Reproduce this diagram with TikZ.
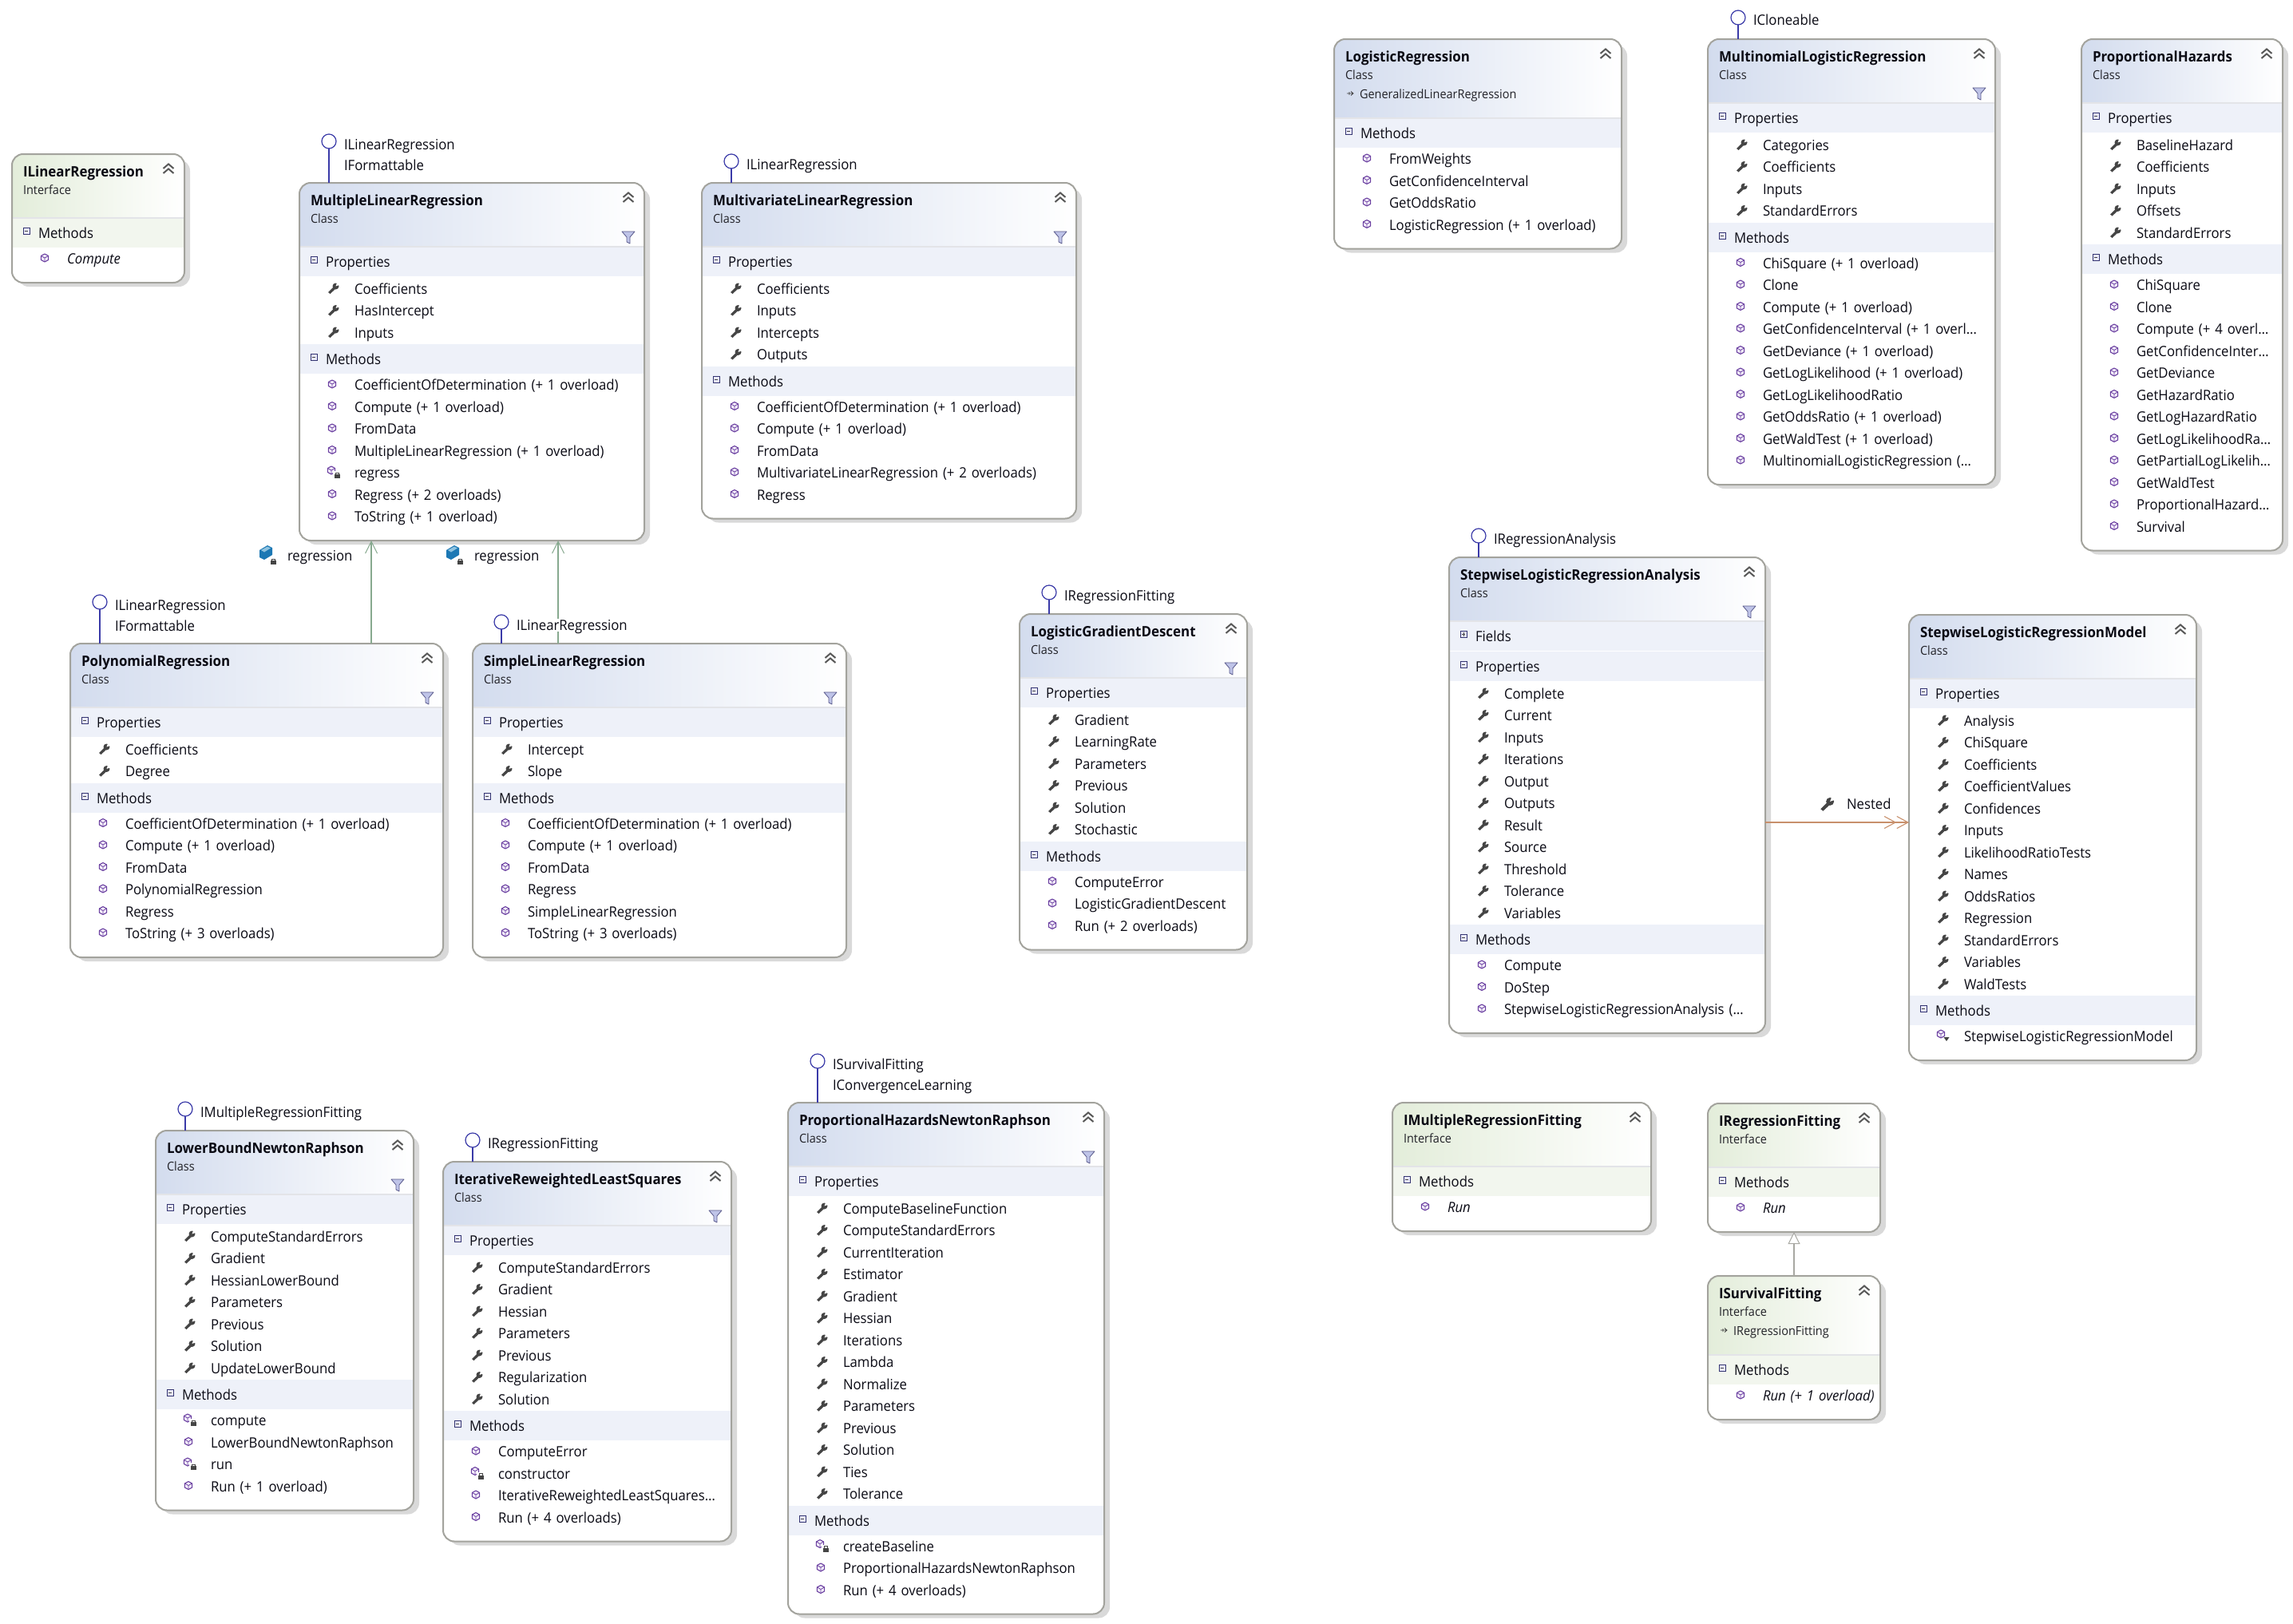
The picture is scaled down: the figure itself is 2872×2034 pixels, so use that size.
\documentclass[tikz,border=0pt]{standalone}
\usepackage{fontspec}
\setmainfont{Open Sans}[FakeStretch=0.94,Ligatures=NoCommon,WordSpace=1.35]
\usetikzlibrary{arrows.meta}
\definecolor{txtc}{HTML}{0A0A14}
\definecolor{kindc}{HTML}{222228}
\definecolor{borderc}{HTML}{A3A39D}
\definecolor{shadowc}{HTML}{D9D9D9}
\definecolor{hdrc}{HTML}{D3DCEE}
\definecolor{bandc}{HTML}{EEF1F9}
\definecolor{hdri}{HTML}{E3EDDA}
\definecolor{bandi}{HTML}{F2F6EE}
\definecolor{sepc}{HTML}{E3E4E8}
\definecolor{lollic}{HTML}{3A3AA8}
\definecolor{purpc}{HTML}{6A3FA0}
\definecolor{purpf}{HTML}{F4EEFB}
\definecolor{wrenchc}{HTML}{454545}
\definecolor{greenc}{HTML}{87A98F}
\definecolor{nestc}{HTML}{C8906C}
\definecolor{inhc}{HTML}{A8A8A2}
\definecolor{fieldc}{HTML}{1C78B4}
\definecolor{fieldt}{HTML}{8FC3E0}
\newcommand\fbody{\fontsize{8.9}{10}\selectfont}
\newcommand\fkind{\fontsize{7.7}{9}\selectfont}
\newcommand\ftitle{\fontsize{9.0}{10}\selectfont\bfseries}
\tikzset{
  x=0.5pt,y=-0.5pt,
  txt/.style={inner sep=0pt,outer sep=0pt,anchor=west,text height=7pt,text depth=1pt,text=txtc,font=\fbody},
  kindtxt/.style={txt,text=kindc,font=\fkind},
  titletxt/.style={txt,font=\ftitle},
  boxn/.style={rectangle,rounded corners=7pt,inner sep=0pt,outer sep=0pt,fill=white},
  boxline/.style={draw=borderc,line width=1pt,rounded corners=7pt},
  lolli/.style={circle,draw=lollic,line width=0.6pt,minimum size=9pt,inner sep=0pt,outer sep=0pt},
  stem/.style={draw=lollic,line width=0.6pt},
  lbl/.style={txt,fill=white},
  assoc/.style={draw=greenc,line width=0.8pt,-{Straight Barb[length=7.5pt,width=7.5pt,line width=0.5pt]}},
  nest/.style={draw=nestc,line width=0.55pt,-{Straight Barb[length=7pt,width=7.5pt,sep=0pt]Straight Barb[length=7pt,width=7.5pt]}},
  inh/.style={draw=inhc,line width=1pt,-{Triangle[open,fill=white,length=7.5pt,width=7.5pt,line width=0.5pt]}},
}
% ---------- icons
\newcommand\icMeth[2]{\begin{scope}[shift={(#1,#2)}]
  \draw[draw=purpc,fill=purpf,line width=0.55pt,line join=round] (0,-5)--(4.6,-2.5)--(4.6,2.5)--(0,5)--(-4.6,2.5)--(-4.6,-2.5)--cycle;
  \draw[draw=purpc,line width=0.4pt] (0,0)--(0,5) (0,0)--(-4.6,-2.5) (0,0)--(4.6,-2.5);
\end{scope}}
\newcommand\icWrench[2]{\begin{scope}[shift={(#1,#2)}]
  \fill[wrenchc] (-7,5) -- (-4.5,7) -- (2,1) -- (0,-2) -- cycle;
  \fill[wrenchc] (2.5,-2.5) circle[radius=4];
  \fill[white] (2.5,-2.5) -- (4.5,-8) -- (8,-4.5) -- cycle;
\end{scope}}
\newcommand\icLock[2]{\begin{scope}[shift={(#1,#2)}]
  \fill[white] (-5,-5) rectangle (5,5);
  \fill[wrenchc] (-3.5,-1) rectangle (3.5,4);
  \draw[wrenchc,line width=0.4pt] (-2,-1) -- (-2,-3) -- (2,-3) -- (2,-1);
\end{scope}}
\newcommand\icDown[2]{\begin{scope}[shift={(#1,#2)}]
  \fill[wrenchc] (-3.5,-2) -- (3.5,-2) -- (0,3) -- cycle;
\end{scope}}
\newcommand\icField[2]{\begin{scope}[shift={(#1,#2)}]
  \fill[fieldc,line join=round] (-8,-3)--(2,-9)--(8,-6)--(8,3)--(-2,9)--(-8,6)--cycle;
  \fill[fieldt] (-6,-3)--(2,-7.5)--(6,-5.5)--(-2,-0.5)--cycle;
\end{scope}}
\newcommand\icMinus[2]{\begin{scope}[shift={(#1,#2)}]
  \draw[draw=black!60!blue!60!gray,fill=blue!8!white,line width=0.4pt] (-4,-4) rectangle (4,4);
  \draw[black!75,line width=0.5pt] (-2.2,0)--(2.2,0);
\end{scope}}
\newcommand\icPlus[2]{\begin{scope}[shift={(#1,#2)}]
  \draw[draw=black!60!blue!60!gray,fill=blue!8!white,line width=0.4pt] (-4,-4) rectangle (4,4);
  \draw[black!75,line width=0.5pt] (-2.2,0)--(2.2,0) (0,-2.2)--(0,2.2);
\end{scope}}
\newcommand\icChev[2]{\begin{scope}[shift={(#1,#2)}]
  \draw[black!65,line width=1pt] (-6.5,-2)--(0,-7.5)--(6.5,-2) (-6.5,4)--(0,-1.5)--(6.5,4);
\end{scope}}
\newcommand\icFilter[2]{\begin{scope}[shift={(#1,#2)}]
  \draw[draw=black!35!blue!30!gray,fill=cyan!30!blue!25!white,line width=0.4pt,line join=round] (-8,-7)--(8,-7)--(2,0)--(2,8)--(-2,6)--(-2,0)--cycle;
\end{scope}}
\newcommand\icInh[2]{\begin{scope}[shift={(#1,#2)}]
  \draw[black!75,line width=0.4pt] (-4,0)--(4,0) (1,-2.5)--(4,0)--(1,2.5) (-1,-2)--(-1,2);
\end{scope}}
% ---------- box machinery
\newdimen\cy
\newcount\rowc
\newif\ifdrw
\newif\ifhasrows
\makeatletter
\newcommand\cyn{\strip@pt\cy}
\makeatother
\newcommand\secstart{\ifhasrows\global\advance\cy 2.5pt\fi}
\newcommand\rowdone{\global\advance\cy 27.5pt\global\hasrowstrue\global\advance\rowc 1 }
\newcommand\rText[3]{\node[txt,#2] (\bid-r\the\rowc) at ({\Lx+69},{\cyn+#3}) {#1};}
\newcommand\bandbody[1]{%
  \fill[\bandcol] ({\Lx+1},\cyn) rectangle ({\Rx-1},{\cyn+37});
  \node[txt] (\bid-s\the\rowc) at ({\Lx+33},{\cyn+19.5}) {#1};}
\newcommand\rSect[1]{\secstart\ifdrw\bandbody{#1}\icMinus{\Lx+18}{\cyn+16.5}\fi\global\advance\cy 37pt\global\hasrowsfalse\global\advance\rowc 1 }
\newcommand\rColl[1]{\secstart\ifdrw\bandbody{#1}\icPlus{\Lx+18}{\cyn+16.5}\fi\global\advance\cy 37pt\global\hasrowsfalse\global\advance\rowc 1 \global\advance\cy 1pt}
\newcommand\rProp[1]{\ifdrw\icWrench{\Lx+43}{\cyn+15}\rText{#1}{}{16}\fi\rowdone}
\newcommand\rMeth[1]{\ifdrw\icMeth{\Lx+41}{\cyn+13}\rText{#1}{}{14.5}\fi\rowdone}
\newcommand\rPriv[1]{\ifdrw\icMeth{\Lx+40}{\cyn+11}\icLock{\Lx+47}{\cyn+17}\rText{#1}{}{14.5}\fi\rowdone}
\newcommand\rIntl[1]{\ifdrw\icMeth{\Lx+40}{\cyn+11}\icDown{\Lx+47}{\cyn+17}\rText{#1}{}{14.5}\fi\rowdone}
\newcommand\rItal[1]{\ifdrw\icMeth{\Lx+41}{\cyn+13}\rText{#1}{font=\fbody\itshape}{14.5}\fi\rowdone}
% #1 id #2 L #3 R #4 T #5 title #6 c|i #7 extra line #8 filter(0|1) #9 body
\newcommand\umlbox[9]{%
  \def\bid{#1}\def\Lx{#2}\def\Rx{#3}\def\Ty{#4}%
  \if#6c\def\bandcol{bandc}\def\hdrcol{hdrc}\def\kindname{Class}\else\def\bandcol{bandi}\def\hdrcol{hdri}\def\kindname{Interface}\fi
  \ifx\relax#7\relax\def\hh{80}\else\def\hh{99}\fi
  \cy=#4pt\relax\global\cy=\cy\global\advance\cy \hh pt\relax
  \global\hasrowsfalse\drwfalse #9\secstart\global\advance\cy 14pt\relax
  \edef\By{\cyn}%
  \pgfmathsetmacro\bw{(\Rx-\Lx)*0.5}\pgfmathsetmacro\bh{(\By-\Ty)*0.5}%
  \fill[shadowc,rounded corners=7pt] ({\Lx+7},{\Ty+7}) rectangle ({\Rx+7},{\By+5});
  \node[boxn,minimum width=\bw pt,minimum height=\bh pt] (#1) at ({(\Lx+\Rx)/2},{(\Ty+\By)/2}) {};
  \begin{scope}
    \clip[rounded corners=7pt] (\Lx,\Ty) rectangle (\Rx,{\Ty+\hh+30});
    \shade[left color=\hdrcol,right color=white] (\Lx,\Ty) rectangle (\Rx,{\Ty+\hh});
  \end{scope}
  \global\cy=#4pt\relax\global\advance\cy \hh pt\relax
  \global\hasrowsfalse\global\rowc=0 \drwtrue #9%
  \draw[sepc,line width=1.2pt] ({\Lx+1},{\Ty+\hh}) -- ({\Rx-1},{\Ty+\hh});
  \draw[boxline] (\Lx,\Ty) rectangle (\Rx,\By);
  \node[titletxt] (#1-title) at ({\Lx+14},{\Ty+22}) {#5};
  \node[kindtxt] (#1-kind) at ({\Lx+14},{\Ty+44}) {\kindname};
  \ifx\relax#7\relax\else
    \icInh{\Lx+20}{\Ty+68}
    \node[kindtxt] (#1-extra) at ({\Lx+32},{\Ty+68}) {#7};
  \fi
  \icChev{\Rx-20}{\Ty+20}
  \ifnum#8=1 \icFilter{\Rx-20}{\Ty+68}\fi
}
% lollipops: #1 id #2 box #3 cx #4 top #5 text
\newcommand\lolliA[5]{%
  \node[lolli] (#1) at (#3,{#4-27}) {};
  \draw[stem] (#1) -- (#1 |- #2.north);
  \node[lbl] (#1-a) at ({#3+19},{#4-23}) {#5};}
\newcommand\lolliB[6]{%
  \node[lolli] (#1) at (#3,{#4-52}) {};
  \draw[stem] (#1) -- (#1 |- #2.north);
  \node[lbl] (#1-a) at ({#3+19},{#4-48}) {#5};
  \node[lbl] (#1-b) at ({#3+19},{#4-22}) {#6};}
\begin{document}
\begin{tikzpicture}
\fill[white] (0,0) rectangle (2872,2034);
\useasboundingbox (0,0) rectangle (2872,2034);

\umlbox{ilr}{15}{231}{193}{ILinearRegression}{i}{}{0}{\rSect{Methods}\rItal{Compute}}

\umlbox{mlr}{375}{807}{229}{MultipleLinearRegression}{c}{}{1}{\rSect{Properties}\rProp{Coefficients}\rProp{HasIntercept}\rProp{Inputs}
 \rSect{Methods}\rMeth{CoefficientOfDetermination (+ 1 overload)}\rMeth{Compute (+ 1 overload)}\rMeth{FromData}\rMeth{MultipleLinearRegression (+ 1 overload)}\rPriv{regress}\rMeth{Regress (+ 2 overloads)}\rMeth{ToString (+ 1 overload)}}

\umlbox{mvlr}{879}{1348}{229}{MultivariateLinearRegression}{c}{}{1}{\rSect{Properties}\rProp{Coefficients}\rProp{Inputs}\rProp{Intercepts}\rProp{Outputs}
 \rSect{Methods}\rMeth{CoefficientOfDetermination (+ 1 overload)}\rMeth{Compute (+ 1 overload)}\rMeth{FromData}\rMeth{MultivariateLinearRegression (+ 2 overloads)}\rMeth{Regress}}

\umlbox{poly}{88}{555}{806}{PolynomialRegression}{c}{}{1}{\rSect{Properties}\rProp{Coefficients}\rProp{Degree}
 \rSect{Methods}\rMeth{CoefficientOfDetermination (+ 1 overload)}\rMeth{Compute (+ 1 overload)}\rMeth{FromData}\rMeth{PolynomialRegression}\rMeth{Regress}\rMeth{ToString (+ 3 overloads)}}

\umlbox{slr}{592}{1060}{806}{SimpleLinearRegression}{c}{}{1}{\rSect{Properties}\rProp{Intercept}\rProp{Slope}
 \rSect{Methods}\rMeth{CoefficientOfDetermination (+ 1 overload)}\rMeth{Compute (+ 1 overload)}\rMeth{FromData}\rMeth{Regress}\rMeth{SimpleLinearRegression}\rMeth{ToString (+ 3 overloads)}}

\umlbox{lgd}{1277}{1562}{769}{LogisticGradientDescent}{c}{}{1}{\rSect{Properties}\rProp{Gradient}\rProp{LearningRate}\rProp{Parameters}\rProp{Previous}\rProp{Solution}\rProp{Stochastic}
 \rSect{Methods}\rMeth{ComputeError}\rMeth{LogisticGradientDescent}\rMeth{Run (+ 2 overloads)}}

\umlbox{logr}{1671}{2031}{49}{LogisticRegression}{c}{GeneralizedLinearRegression}{0}{\rSect{Methods}\rMeth{FromWeights}\rMeth{GetConfidenceInterval}\rMeth{GetOddsRatio}\rMeth{LogisticRegression (+ 1 overload)}}

\umlbox{mnlr}{2139}{2499}{49}{MultinomialLogisticRegression}{c}{}{1}{\rSect{Properties}\rProp{Categories}\rProp{Coefficients}\rProp{Inputs}\rProp{StandardErrors}
 \rSect{Methods}\rMeth{ChiSquare (+ 1 overload)}\rMeth{Clone}\rMeth{Compute (+ 1 overload)}\rMeth{GetConfidenceInterval (+ 1 overl…}\rMeth{GetDeviance (+ 1 overload)}\rMeth{GetLogLikelihood (+ 1 overload)}\rMeth{GetLogLikelihoodRatio}\rMeth{GetOddsRatio (+ 1 overload)}\rMeth{GetWaldTest (+ 1 overload)}\rMeth{MultinomialLogisticRegression (…}}

\umlbox{ph}{2607}{2859}{49}{ProportionalHazards}{c}{}{0}{\rSect{Properties}\rProp{BaselineHazard}\rProp{Coefficients}\rProp{Inputs}\rProp{Offsets}\rProp{StandardErrors}
 \rSect{Methods}\rMeth{ChiSquare}\rMeth{Clone}\rMeth{Compute (+ 4 overl…}\rMeth{GetConfidenceInter…}\rMeth{GetDeviance}\rMeth{GetHazardRatio}\rMeth{GetLogHazardRatio}\rMeth{GetLogLikelihoodRa…}\rMeth{GetPartialLogLikelih…}\rMeth{GetWaldTest}\rMeth{ProportionalHazard…}\rMeth{Survival}}

\umlbox{swa}{1815}{2211}{698}{StepwiseLogisticRegressionAnalysis}{c}{}{1}{\rColl{Fields}\rSect{Properties}\rProp{Complete}\rProp{Current}\rProp{Inputs}\rProp{Iterations}\rProp{Output}\rProp{Outputs}\rProp{Result}\rProp{Source}\rProp{Threshold}\rProp{Tolerance}\rProp{Variables}
 \rSect{Methods}\rMeth{Compute}\rMeth{DoStep}\rMeth{StepwiseLogisticRegressionAnalysis (…}}

\umlbox{swm}{2391}{2751}{770}{StepwiseLogisticRegressionModel}{c}{}{0}{\rSect{Properties}\rProp{Analysis}\rProp{ChiSquare}\rProp{Coefficients}\rProp{CoefficientValues}\rProp{Confidences}\rProp{Inputs}\rProp{LikelihoodRatioTests}\rProp{Names}\rProp{OddsRatios}\rProp{Regression}\rProp{StandardErrors}\rProp{Variables}\rProp{WaldTests}
 \rSect{Methods}\rIntl{StepwiseLogisticRegressionModel}}

\umlbox{lbnr}{195}{518}{1416}{LowerBoundNewtonRaphson}{c}{}{1}{\rSect{Properties}\rProp{ComputeStandardErrors}\rProp{Gradient}\rProp{HessianLowerBound}\rProp{Parameters}\rProp{Previous}\rProp{Solution}\rProp{UpdateLowerBound}
 \rSect{Methods}\rPriv{compute}\rMeth{LowerBoundNewtonRaphson}\rPriv{run}\rMeth{Run (+ 1 overload)}}

\umlbox{irls}{555}{916}{1455}{IterativeReweightedLeastSquares}{c}{}{1}{\rSect{Properties}\rProp{ComputeStandardErrors}\rProp{Gradient}\rProp{Hessian}\rProp{Parameters}\rProp{Previous}\rProp{Regularization}\rProp{Solution}
 \rSect{Methods}\rMeth{ComputeError}\rPriv{constructor}\rMeth{IterativeReweightedLeastSquares…}\rMeth{Run (+ 4 overloads)}}

\umlbox{phnr}{987}{1383}{1381}{ProportionalHazardsNewtonRaphson}{c}{}{1}{\rSect{Properties}\rProp{ComputeBaselineFunction}\rProp{ComputeStandardErrors}\rProp{CurrentIteration}\rProp{Estimator}\rProp{Gradient}\rProp{Hessian}\rProp{Iterations}\rProp{Lambda}\rProp{Normalize}\rProp{Parameters}\rProp{Previous}\rProp{Solution}\rProp{Ties}\rProp{Tolerance}
 \rSect{Methods}\rPriv{createBaseline}\rMeth{ProportionalHazardsNewtonRaphson}\rMeth{Run (+ 4 overloads)}}

\umlbox{imrf}{1744}{2068}{1381}{IMultipleRegressionFitting}{i}{}{0}{\rSect{Methods}\rItal{Run}}

\umlbox{irf}{2139}{2355}{1382}{IRegressionFitting}{i}{}{0}{\rSect{Methods}\rItal{Run}}

\umlbox{isf}{2139}{2355}{1598}{ISurvivalFitting}{i}{IRegressionFitting}{0}{\rSect{Methods}\rItal{Run (+ 1 overload)}}

% connectors
\coordinate (ax1) at (465,0);
\coordinate (ax2) at (699,0);
\coordinate (ax3) at (2247,0);
\coordinate (ay) at (0,1030);
\draw[assoc] (ax1 |- poly.north) -- (ax1 |- mlr.south);
\draw[assoc] (ax2 |- slr.north) -- (ax2 |- mlr.south);
\draw[inh] (ax3 |- isf.north) -- (ax3 |- irf.south);
\draw[nest] (swa.east |- ay) -- (swm.west |- ay);

\icField{333}{692}\icLock{342}{703}
\node[txt] (reg1) at (360,696) {regression};
\icField{567}{692}\icLock{576}{703}
\node[txt] (reg2) at (594,696) {regression};
\begin{scope}[shift={(2289,1007)},scale=1.25]\icWrench{0}{0}\end{scope}
\node[txt] (nested) at (2313,1007) {Nested};

\lolliB{lmlr}{mlr}{412}{229}{ILinearRegression}{IFormattable}
\lolliA{lmvlr}{mvlr}{916}{229}{ILinearRegression}
\lolliB{lpoly}{poly}{125}{806}{ILinearRegression}{IFormattable}
\lolliA{lslr}{slr}{628}{806}{ILinearRegression}
\lolliA{llgd}{lgd}{1314}{769}{IRegressionFitting}
\lolliA{lmnlr}{mnlr}{2177}{49}{ICloneable}
\lolliA{lswa}{swa}{1852}{698}{IRegressionAnalysis}
\lolliA{llbnr}{lbnr}{232}{1416}{IMultipleRegressionFitting}
\lolliA{lirls}{irls}{592}{1455}{IRegressionFitting}
\lolliB{lphnr}{phnr}{1024}{1381}{ISurvivalFitting}{IConvergenceLearning}
\end{tikzpicture}
\end{document}
